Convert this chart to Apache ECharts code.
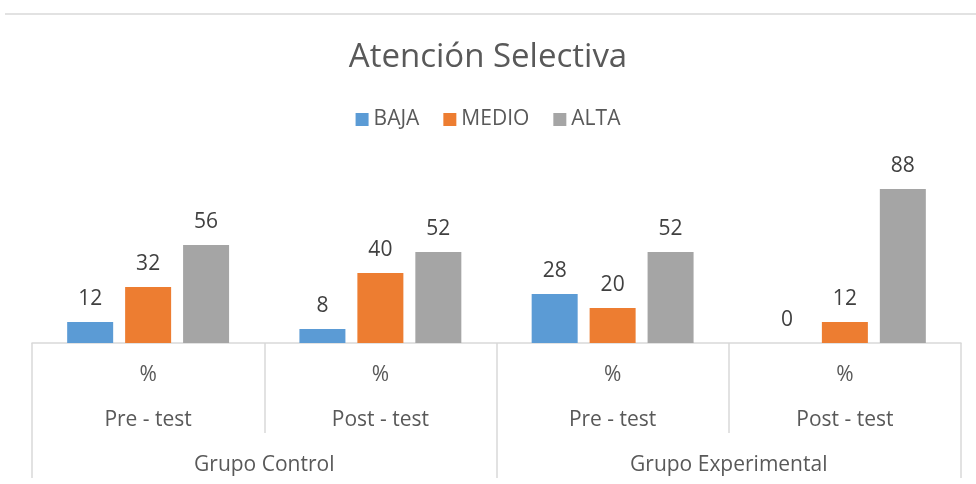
<!DOCTYPE html>
<html>
<head>
<meta charset="utf-8">
<script src="https://cdn.jsdelivr.net/npm/echarts@6/dist/echarts.min.js"></script>
<style>
  html, body { margin: 0; padding: 0; background: #fff; }
  #chart { width: 976px; height: 484px; }
</style>
</head>
<body>
<div id="chart"></div>
<script>
// datos
const pctLabels = ['%', '%', '%', '%']
const tests = ['Pre - test', 'Post - test', 'Pre - test', 'Post - test']
const groups = ['Grupo Control', 'Grupo Experimental']
const baja = [12, 8, 28, 0]
const medio = [32, 40, 20, 12]
const alta = [56, 52, 52, 88]

const font = '"Open Sans", "Noto Sans", sans-serif'
const lineGray = '#d9d9d9'

function barSerie(name, data, color) {
    return {
        name: name,
        type: 'bar',
        data: data,
        barWidth: 46,
        barGap: '26%',
        itemStyle: { color: color },
        label: {
            show: true,
            position: 'top',
            distance: 12,
            color: '#404040',
            fontSize: 21,
            fontFamily: font
        }
    }
}

const chart = echarts.init(document.getElementById('chart'))
chart.setOption({
    animation: false,
    textStyle: { fontFamily: font },
    title: {
        text: 'Atención Selectiva',
        left: 'center',
        top: 36,
        textStyle: { fontSize: 33, fontWeight: 'normal', color: '#595959', fontFamily: font }
    },
    legend: {
        top: 104,
        left: 'center',
        itemWidth: 13,
        itemHeight: 13,
        itemGap: 24,
        icon: 'rect',
        textStyle: { fontSize: 21, color: '#595959', fontFamily: font },
        data: ['BAJA', 'MEDIO', 'ALTA']
    },
    grid: { left: 32, right: 15, top: 168, bottom: 141, containLabel: false },
    yAxis: { type: 'value', min: 0, max: 100, show: false },
    xAxis: [
        {
            type: 'category',
            data: pctLabels,
            axisLine: { lineStyle: { color: lineGray, width: 1.5 } },
            axisTick: { show: true, length: 90, interval: 0, lineStyle: { color: lineGray, width: 1.5 } },
            axisLabel: { margin: 22, fontSize: 21, color: '#595959', interval: 0 }
        },
        {
            type: 'category',
            data: tests,
            position: 'bottom',
            axisLine: { show: false },
            axisTick: { show: false },
            axisLabel: { margin: 67, fontSize: 21, color: '#595959', interval: 0 }
        },
        {
            type: 'category',
            data: groups,
            position: 'bottom',
            axisLine: { show: false },
            axisTick: { show: true, length: 135, interval: 0, lineStyle: { color: lineGray, width: 1.5 } },
            axisLabel: { margin: 112, fontSize: 21, color: '#595959', interval: 0 }
        }
    ],
    graphic: [{
        type: 'line',
        shape: { x1: 5, y1: 14, x2: 976, y2: 14 },
        style: { stroke: lineGray, lineWidth: 1.5 }
    }],
    series: [
        barSerie('BAJA', baja, '#5b9bd5'),
        barSerie('MEDIO', medio, '#ed7d31'),
        barSerie('ALTA', alta, '#a5a5a5')
    ]
})
</script>
</body>
</html>
